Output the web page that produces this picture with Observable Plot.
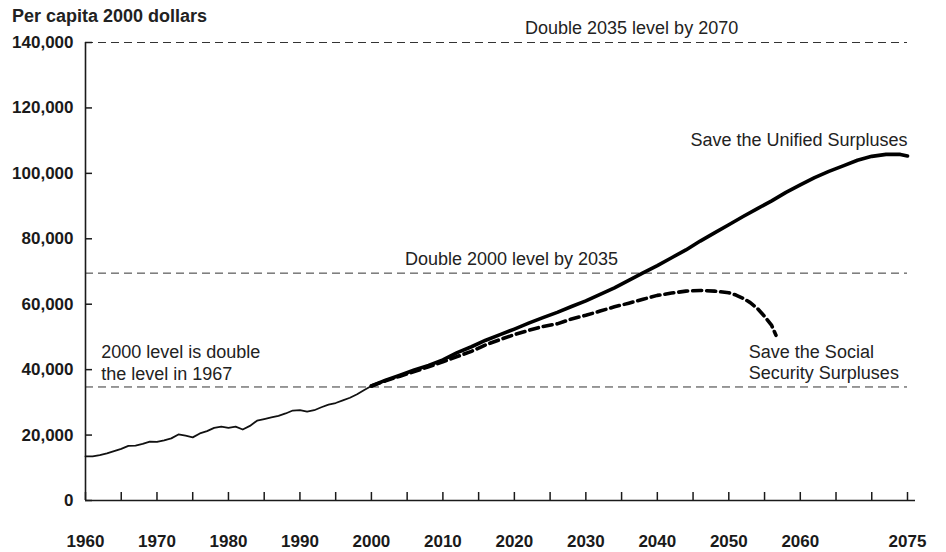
<!DOCTYPE html>
<html><head><meta charset="utf-8">
<script src="https://cdn.jsdelivr.net/npm/d3@7"></script>
<script src="https://cdn.jsdelivr.net/npm/@observablehq/plot@0.6"></script>
<style>
body{margin:0;background:#fff;font-family:"Liberation Sans",Arial,sans-serif;}
#wrap{position:relative;width:946px;height:552px;}
#title{position:absolute;left:12px;top:6px;font-size:18px;font-weight:bold;color:#222;z-index:2;}
#chart{position:absolute;left:0;top:0;}
</style></head><body>
<div id="wrap"><div id="title">Per capita 2000 dollars</div><div id="chart"></div></div>
<script>
// Historical per capita (thousands of 2000 dollars)
const histYears = [1960,1961,1962,1963,1964,1965,1966,1967,1968,1969,1970,1971,1972,1973,1974,1975,1976,1977,1978,1979,1980,1981,1982,1983,1984,1985,1986,1987,1988,1989,1990,1991,1992,1993,1994,1995,1996,1997,1998,1999,2000];
const histValues = [13.5,13.5,13.9,14.4,15.1,15.8,16.7,16.8,17.3,18.0,17.9,18.4,19.0,20.2,19.8,19.3,20.5,21.2,22.2,22.6,22.2,22.6,21.7,22.8,24.4,24.9,25.4,25.9,26.6,27.5,27.6,27.2,27.6,28.5,29.3,29.8,30.6,31.4,32.5,33.8,35.0];

// Save the Unified Surpluses
const unifiedYears = [2000,2002,2004,2006,2008,2010,2012,2014,2016,2018,2020,2022,2024,2026,2028,2030,2032,2034,2036,2038,2040,2042,2044,2046,2048,2050,2052,2054,2056,2058,2060,2062,2064,2066,2068,2070,2072,2074,2075];
const unifiedValues = [35.0,36.8,38.3,39.9,41.3,43.0,45.2,47.0,49.0,50.7,52.4,54.2,55.9,57.5,59.3,61.0,63.0,65.0,67.3,69.6,71.8,74.2,76.6,79.3,81.8,84.3,86.8,89.2,91.6,94.2,96.5,98.7,100.6,102.3,104.0,105.2,105.8,105.8,105.3];

// Save the Social Security Surpluses
const socialYears = [2000,2002,2004,2006,2008,2010,2012,2014,2016,2018,2020,2022,2024,2026,2028,2030,2032,2034,2036,2038,2040,2042,2044,2046,2048,2050,2051,2052,2053,2054,2055,2056,2056.6];
const socialValues = [35.0,36.6,38.0,39.4,40.9,42.4,44.0,45.6,47.6,49.2,50.7,52.0,53.2,54.0,55.5,56.6,57.9,59.2,60.3,61.5,62.7,63.4,64.0,64.2,64.0,63.5,62.8,61.8,60.5,58.7,56.3,53.5,50.5];

// Reference levels (dollars)
const refLevels = [34700, 69500, 140000];

// Axis ticks
const xTickYears = d3.range(1960, 2076, 5);
const xLabelYears = [1960,1970,1980,1990,2000,2010,2020,2030,2040,2050,2060,2075];
const yTickValues = [0,20000,40000,60000,80000,100000,120000,140000];

// Annotations
const noteText = ["Save the Unified Surpluses", "Save the Social\nSecurity Surpluses", "2000 level is double\nthe level in 1967", "Double 2000 level by 2035", "Double 2035 level by 2070"];
const noteX = [2075, 2052.8, 1962.2, 2019.6, 2036.4];
const noteY = [110400, 42500, 42300, 74100, 144700];
const noteAnchor = ["end", "start", "start", "middle", "middle"];

const hist = histYears.map((x, i) => ({x, y: histValues[i] * 1000}));
const unified = unifiedYears.map((x, i) => ({x, y: unifiedValues[i] * 1000}));
const social = socialYears.map((x, i) => ({x, y: socialValues[i] * 1000}));
const notes = noteText.map((t, i) => ({t, x: noteX[i], y: noteY[i], a: noteAnchor[i]}));

const ink = "#1a1a1a";
const plot = Plot.plot({
  width: 946, height: 552,
  marginLeft: 85, marginRight: 39, marginTop: 42, marginBottom: 52,
  style: {fontFamily: "'Liberation Sans', Arial, sans-serif", background: "white", overflow: "visible", color: ink},
  x: {domain: [1960, 2075]},
  y: {domain: [0, 140000]},
  marks: [
    Plot.ruleY(refLevels, {y: d => d, x1: 1960, x2: 2075, stroke: "#333", strokeWidth: 1, strokeDasharray: "8,5"}),
    Plot.ruleX([1960], {y1: 0, y2: 140000, stroke: ink, strokeWidth: 1.6}),
    Plot.ruleY([0], {x1: 1960, x2: 2075, insetRight: -8, stroke: ink, strokeWidth: 1.6}),
    Plot.tickX(xTickYears, {x: d => d, insetTop: 450, stroke: ink, strokeWidth: 1.5}),
    Plot.tickY(yTickValues, {y: d => d, insetRight: 815, stroke: ink, strokeWidth: 1.5}),
    Plot.axisX({ticks: xLabelYears, tickSize: 0, tickPadding: 34, tickFormat: d => String(d), fontSize: 17, fontWeight: "bold", fill: ink, label: null}),
    Plot.axisY({ticks: yTickValues, tickSize: 0, tickPadding: 12, tickFormat: d3.format(","), fontSize: 17, fontWeight: "bold", fill: ink, label: null}),
    Plot.line(hist, {x: "x", y: "y", stroke: "#111", strokeWidth: 1.8}),
    Plot.line(social, {x: "x", y: "y", stroke: "#000", strokeWidth: 3.6, strokeDasharray: "9,5"}),
    Plot.line(unified, {x: "x", y: "y", stroke: "#000", strokeWidth: 3.6, strokeLinecap: "round"}),
    Plot.text(notes, {x: "x", y: "y", text: "t", textAnchor: "end", filter: d => d.a === "end", fontSize: 18, fill: "#222", lineHeight: 1.2}),
    Plot.text(notes, {x: "x", y: "y", text: "t", textAnchor: "start", filter: d => d.a === "start", fontSize: 18, fill: "#222", lineHeight: 1.2}),
    Plot.text(notes, {x: "x", y: "y", text: "t", textAnchor: "middle", filter: d => d.a === "middle", fontSize: 18, fill: "#222", lineHeight: 1.2})
  ]
});
document.getElementById("chart").appendChild(plot);
</script>
</body></html>
